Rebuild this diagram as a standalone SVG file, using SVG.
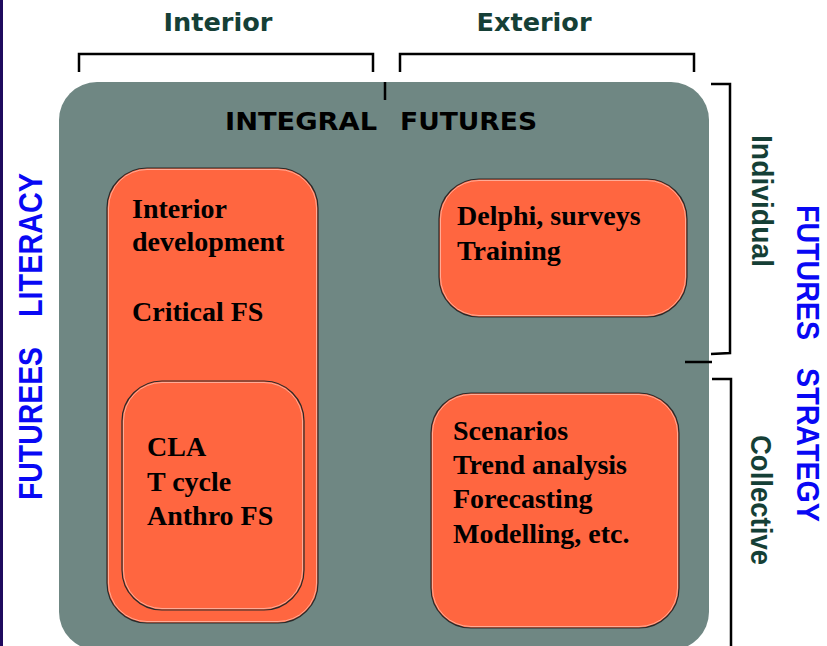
<svg xmlns="http://www.w3.org/2000/svg" width="827" height="646" viewBox="0 0 827 646">
  <style>
    .panel { fill: #6f8783; }
    .box { fill: #ff6640; stroke: #2a2a2a; stroke-width: 1.2; }
    .hl { fill: none; stroke: #ffffff; stroke-opacity: 0.45; stroke-width: 1; }
    .item { font-family: "Liberation Serif", "Times New Roman", serif; font-weight: bold; font-size: 28px; fill: #000; }
    .axis { font-family: "DejaVu Sans", "Liberation Sans", sans-serif; font-weight: bold; font-size: 25px; fill: #153f36; }
    .side { font-family: "Liberation Sans", Arial, sans-serif; font-weight: bold; font-size: 30px; fill: #153f36; }
    .blue { font-family: "Liberation Sans", Arial, sans-serif; font-weight: bold; font-size: 33px; fill: #0808f4; }
    .blue-r { font-size: 32px; }
    .title { font-family: "DejaVu Sans", "Liberation Sans", sans-serif; font-weight: bold; font-size: 25px; fill: #000; }
    .br { fill: none; stroke: #000; stroke-width: 2.5; stroke-linejoin: miter; }
  </style>

  <rect x="0" y="0" width="827" height="646" fill="#ffffff"/>
  <rect x="0" y="0" width="3" height="646" fill="#1f0a5e"/>

  <!-- main panel -->
  <g id="integral-futures">
    <rect class="panel" x="59" y="82" width="650" height="568" rx="38" ry="38"/>
    <text class="title" x="225" y="130" textLength="152" lengthAdjust="spacingAndGlyphs">INTEGRAL</text>
    <text class="title" x="400" y="130" textLength="137" lengthAdjust="spacingAndGlyphs">FUTURES</text>
  </g>

  <!-- axis labels -->
  <g id="label-interior">
    <text class="axis" x="218" y="31" text-anchor="middle" textLength="109" lengthAdjust="spacingAndGlyphs">Interior</text>
  </g>
  <g id="label-exterior">
    <text class="axis" x="534" y="31" text-anchor="middle" textLength="115" lengthAdjust="spacingAndGlyphs">Exterior</text>
  </g>
  <g id="label-individual">
    <text class="side" transform="translate(752,135) rotate(90)" textLength="132" lengthAdjust="spacingAndGlyphs">Individual</text>
  </g>
  <g id="label-collective">
    <text class="side" transform="translate(751,435) rotate(90)" textLength="130" lengthAdjust="spacingAndGlyphs">Collective</text>
  </g>
  <g id="label-literacy">
    <text class="blue" transform="translate(42,500) rotate(-90)" textLength="153" lengthAdjust="spacingAndGlyphs">FUTUREES</text>
    <text class="blue" transform="translate(42,317) rotate(-90)" textLength="144" lengthAdjust="spacingAndGlyphs">LITERACY</text>
  </g>
  <g id="label-strategy">
    <text class="blue blue-r" transform="translate(797,205) rotate(90)" textLength="135" lengthAdjust="spacingAndGlyphs">FUTURES</text>
    <text class="blue blue-r" transform="translate(797,368) rotate(90)" textLength="154" lengthAdjust="spacingAndGlyphs">STRATEGY</text>
  </g>

  <!-- quadrant boxes -->
  <g id="interior-development">
    <rect class="box" x="107" y="168" width="211" height="455" rx="40" ry="40"/>
    <rect class="hl" x="108.5" y="169.5" width="208" height="452" rx="38.5" ry="38.5"/>
    <text class="item" x="132" y="218">Interior</text>
    <text class="item" x="132" y="251">development</text>
    <text class="item" x="132" y="321">Critical FS</text>
  </g>
  <g id="cla">
    <rect class="box" x="122" y="381" width="182" height="229" rx="40" ry="40"/>
    <rect class="hl" x="123.5" y="382.5" width="179" height="226" rx="38.5" ry="38.5"/>
    <text class="item" x="147" y="456">CLA</text>
    <text class="item" x="147" y="491">T cycle</text>
    <text class="item" x="147" y="525">Anthro FS</text>
  </g>
  <g id="delphi">
    <rect class="box" x="439" y="179" width="248" height="138" rx="40" ry="40"/>
    <rect class="hl" x="440.5" y="180.5" width="245" height="135" rx="38.5" ry="38.5"/>
    <text class="item" x="457" y="225">Delphi, surveys</text>
    <text class="item" x="457" y="260">Training</text>
  </g>
  <g id="scenarios">
    <rect class="box" x="431" y="393" width="248" height="235" rx="40" ry="40"/>
    <rect class="hl" x="432.5" y="394.5" width="245" height="232" rx="38.5" ry="38.5"/>
    <text class="item" x="453" y="440">Scenarios</text>
    <text class="item" x="453" y="474">Trend analysis</text>
    <text class="item" x="453" y="508">Forecasting</text>
    <text class="item" x="453" y="543">Modelling, etc.</text>
  </g>

  <!-- brackets -->
  <g id="connectors">
    <path class="br" d="M79,72 V54 H373 V72"/>
    <path class="br" d="M400,72 V54 H694 V72"/>
    <path class="br" d="M385,82 V100" stroke-width="2"/>
    <path class="br" d="M711,84 H730 V353 L711,354"/>
    <path class="br" d="M685,362 H712" stroke-width="2"/>
    <path class="br" d="M712,379 H731 V646"/>
  </g>
</svg>
